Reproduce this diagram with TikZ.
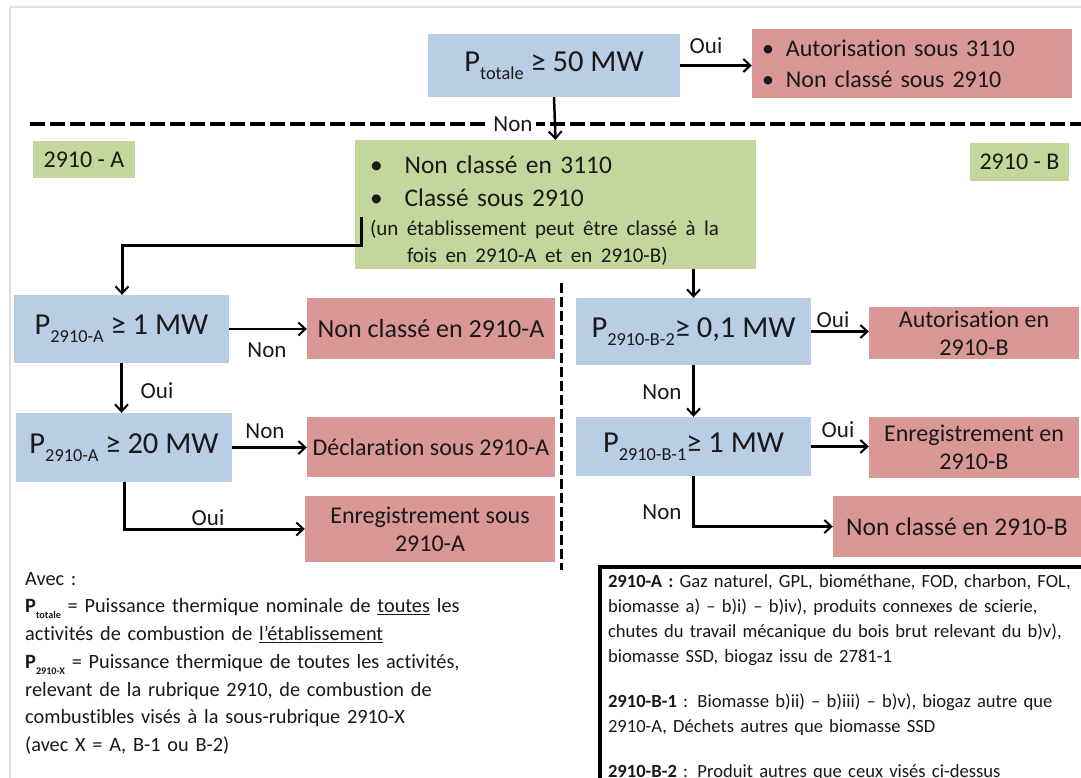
\documentclass[tikz,border=0pt]{standalone}
\usepackage{fontspec}
\setmainfont{Carlito}[Ligatures={NoCommon}]
\usetikzlibrary{arrows.meta}
\definecolor{bbl}{HTML}{B9CDE5}
\definecolor{rrd}{HTML}{D99795}
\definecolor{ggr}{HTML}{C3D69B}
\newcommand{\sbs}[1]{\raisebox{-0.25em}{\scalebox{0.6}{#1}}}
\newcommand{\ssbs}[1]{\raisebox{-0.28em}{\scalebox{0.5}{#1}}}
\newcommand{\fsz}[2]{\fontsize{#1}{#2}\selectfont}
\begin{document}
\begin{tikzpicture}[x=1pt,y=-1pt,
 box/.style={inner sep=0pt, align=center, text=black!90},
 bluebox/.style={box, fill=bbl, font=\fsz{30.5}{32}},
 redbox/.style={box, fill=rrd, font=\fsz{24}{28}},
 greenbox/.style={box, fill=ggr},
 lbl/.style={font=\fsz{23}{24}, inner sep=1pt, text=black!90},
 arr/.style={line width=2.5pt, -{Straight Barb[length=7pt,width=13pt,line width=2pt]}},
 conn/.style={line width=3pt, -{Straight Barb[length=7pt,width=13pt,line width=2pt]}},
]
\useasboundingbox (0,0) rectangle (1081,777);
\fill[white] (0,0) rectangle (1081,777);
\draw[black!12, line width=1.5pt] (10,7) rectangle (1100,800);

% separators
\draw[line width=4pt, dash pattern=on 15pt off 5pt] (30,124) -- (1081,124);
\draw[line width=3pt, dash pattern=on 10pt off 4pt] (561,283) -- (561,570);

% top
\node[bluebox, minimum width=252, minimum height=63] (ptot) at (554,65.5)
  {P\sbs{totale} ≥ 50 MW};
\node[redbox, minimum height=69, text width=300, inner xsep=10pt, align=left, font=\fsz{24}{31}] (r3110) at (912,63.5)
  {\textbullet\hspace{12pt}Autorisation sous 3110\\ \textbullet\hspace{12pt}Non classé sous 2910};

\node[greenbox, minimum width=102, minimum height=37, font=\fsz{24}{26}] (gA) at (84,159.5) {2910 - A};
\node[greenbox, minimum width=99, minimum height=38, font=\fsz{24}{26}] (gB) at (1019.5,162) {2910 - B};

\node[greenbox, minimum height=129, text width=371, inner xsep=15pt, align=left, font=\fsz{25.4}{33}] (central) at (555.5,204.5)
  {\rule{0pt}{29pt}\textbullet\hspace{22pt}Non classé en 3110\\
   \textbullet\hspace{22pt}Classé sous 2910\\[-4pt]
   {\fsz{21}{27}(un établissement peut être classé à la}\\[-6pt]
   {\fsz{21}{27}\hspace*{37pt}fois en 2910-A et en 2910-B)}};

% 2910-A branch
\node[bluebox, minimum width=215, minimum height=68] (pA1) at (121.5,329) {P\sbs{2910-A} ≥ 1 MW};
\node[redbox, minimum width=248, minimum height=61, font=\fsz{26}{28}] (nA) at (431,328.5) {Non classé en 2910-A};
\node[bluebox, minimum width=216, minimum height=69] (pA2) at (124,447.5) {P\sbs{2910-A} ≥ 20 MW};
\node[redbox, minimum width=248, minimum height=60] (dA) at (431,447) {Déclaration sous 2910-A};
\node[redbox, minimum width=250, minimum height=66] (eA) at (430,529) {Enregistrement sous\\2910-A};

% 2910-B branch
\node[bluebox, minimum width=235, minimum height=67] (pB2) at (693.5,331.5) {P\sbs{2910-B-2}≥ 0,1 MW};
\node[redbox, minimum width=210, minimum height=52] (aB) at (974,333) {Autorisation en\\2910-B};
\node[bluebox, minimum width=235, minimum height=59] (pB1) at (693.5,446.5) {P\sbs{2910-B-1}≥ 1 MW};
\node[redbox, minimum width=210, minimum height=61] (enB) at (974,447.5) {Enregistrement en\\2910-B};
\node[redbox, minimum width=248, minimum height=61, font=\fsz{25.5}{28}] (nB) at (957,526.5) {Non classé en 2910-B};

% connectors
\draw[arr] (ptot.east) -- (r3110.west |- ptot.east);
\node[lbl] (lOui0) at (706,46) {Oui};
\draw[arr] (ptot.south) -- (central.north);
\node[lbl, fill=white, inner xsep=3pt] (lNon0) at (513,124) {Non};

\coordinate (c1) at (361,217);
\coordinate (c2) at (122,245);
\draw[conn] (c1) |- (c2) -- (c2 |- pA1.north);
\draw[conn] (central.south -| pB2.north) -- (pB2.north);

\draw[arr] (pA1.east) -- (nA.west |- pA1.east);
\node[lbl] (lNon1) at (267,350) {Non};
\draw[arr] (pA1.south) -- (pA1.south |- pA2.north);
\node[lbl] (lOui1) at (157,391) {Oui};
\draw[arr] (pA2.east) -- (dA.west |- pA2.east);
\node[lbl] (lNon2) at (265,431) {Non};
\draw[conn] (pA2.south) |- (eA.west);
\node[lbl] (lOui2) at (208,518) {Oui};

\draw[arr] (pB2.east) -- (aB.west |- pB2.east);
\node[lbl] (lOui3) at (833,320) {Oui};
\draw[arr] (pB2.south) -- (pB1.north);
\node[lbl] (lNon3) at (662,392) {Non};
\draw[arr] (pB1.east) -- (enB.west |- pB1.east);
\node[lbl] (lOui4) at (838,430) {Oui};
\draw[conn] (pB1.south) |- (nB.west);
\node[lbl] (lNon4) at (662,512) {Non};

% legends
\node[anchor=north west, inner sep=0pt, text width=580, align=left, font=\fsz{20.3}{27.7}, text=black!90] (legA) at (25,572)
  {Avec :\\
   \textbf{P}\ssbs{\textbf{totale}} = Puissance thermique nominale de \underline{toutes} les\\
   activités de combustion de \underline{l’établissement}\\
   \textbf{P}\ssbs{\textbf{2910-X}} = Puissance thermique de toutes les activités,\\
   relevant de la rubrique 2910, de combustion de\\
   combustibles visés à la sous-rubrique 2910-X\\
   (avec X = A, B-1 ou B-2)};

\node[draw, line width=4pt, anchor=north west, text width=500, inner xsep=8pt, inner ysep=8pt, align=left, font=\fsz{18.6}{25}, text=black!90] (legB) at (598,565)
  {\textbf{2910-A :} Gaz naturel, GPL, biométhane, FOD, charbon, FOL,\\
   biomasse a) – b)i) – b)iv), produits connexes de scierie,\\
   chutes du travail mécanique du bois brut relevant du b)v),\\
   biomasse SSD, biogaz issu de 2781-1\\[20pt]
   \textbf{2910-B-1} : Biomasse b)ii) – b)iii) – b)v), biogaz autre que\\
   2910-A, Déchets autres que biomasse SSD\\[20pt]
   \textbf{2910-B-2} : Produit autres que ceux visés ci-dessus\\[20pt]
   \mbox{}};
\end{tikzpicture}
\end{document}
